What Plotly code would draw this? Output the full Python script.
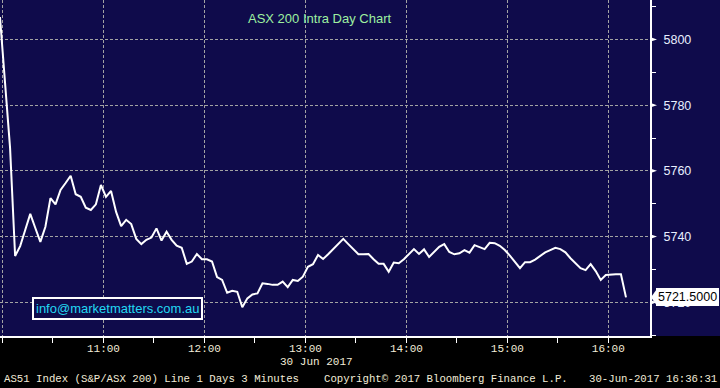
import pandas as pd
import plotly.graph_objects as go

# ---- data (3-minute intraday closes) ----
start_time = "2017-06-30 09:58:30"
values = [
    5806.8, 5787.1, 5767.0, 5734.1, 5737.1, 5742.0, 5746.9, 5742.6, 5738.4, 5743.0,
    5751.7, 5749.8, 5754.2, 5756.3, 5758.5, 5752.9, 5752.1, 5748.8, 5748.1, 5749.8,
    5755.7, 5752.1, 5753.9, 5747.5, 5743.2, 5745.1, 5743.8, 5739.3, 5737.7, 5739.0,
    5739.7, 5742.5, 5738.8, 5741.5, 5739.0, 5737.2, 5736.6, 5731.7, 5732.4, 5734.7,
    5733.1, 5733.1, 5732.4, 5727.7, 5726.8, 5722.9, 5723.5, 5723.2, 5718.5, 5721.2,
    5722.4, 5722.7, 5725.8, 5725.6, 5725.3, 5725.3, 5726.3, 5724.6, 5726.8, 5726.5,
    5727.8, 5730.8, 5731.6, 5734.4, 5733.2, 5734.6, 5736.1, 5737.7, 5739.3, 5737.7,
    5736.1, 5734.6, 5734.6, 5734.7, 5733.1, 5731.7, 5731.7, 5729.3, 5732.1, 5731.9,
    5733.1, 5734.6, 5736.2, 5734.7, 5736.1, 5733.8, 5735.2, 5736.9, 5737.7, 5735.3,
    5734.6, 5734.9, 5735.9, 5735.1, 5737.4, 5736.9, 5736.2, 5738.1, 5738.0, 5737.2,
    5735.9, 5734.2, 5732.4, 5730.4, 5732.2, 5732.2, 5733.0, 5734.1, 5735.2, 5735.9,
    5736.6, 5736.2, 5735.2, 5733.4, 5731.9, 5730.4, 5729.8, 5731.6, 5729.5, 5726.8,
    5728.3, 5728.5, 5728.5, 5728.5, 5721.5,
]
times = pd.date_range(start_time, periods=len(values), freq="3min")

hour_ticks = ["2017-06-30 %02d:00" % h for h in range(10, 17)]
hour_labels = ["", "11:00", "12:00", "13:00", "14:00", "15:00", "16:00"]
half_ticks = ["2017-06-30 %02d:30" % h for h in range(10, 16)]
y_ticks = [5720, 5740, 5760, 5780, 5800]
y_minor = [5710, 5730, 5750, 5770, 5790, 5810]

title_text = "ASX 200 Intra Day Chart"
email_text = "info@marketmatters.com.au"
date_text = "30 Jun 2017"
footer_left = "AS51 Index (S&amp;P/ASX 200) Line 1 Days 3 Minutes"
footer_mid = "Copyright\u00a9 2017 Bloomberg Finance L.P."
footer_right = "30-Jun-2017 16:36:31"

NAVY = "#0f0b4b"
GRID = "#a3a3a3"
MONO = "Liberation Mono, DejaVu Sans Mono, monospace"
SANS = "Liberation Sans, Arial, sans-serif"
PALE = "#f2ecd8"

fig = go.Figure()
fig.add_trace(go.Scatter(
    x=times, y=values, mode="lines",
    line=dict(color="white", width=2),
    hoverinfo="skip", showlegend=False,
))

W, H = 720, 388
L, R, T, B = 0, 70, 0, 52
pw, ph = W - L - R, H - T - B
ymin, ymax = 5709.74, 5812.0


def ypaper(v):
    """Map a data value on the y axis to paper coordinates."""
    return (v - ymin) / (ymax - ymin)


shapes = []
# black footer band
shapes.append(dict(type="rect", xref="paper", yref="paper", x0=-0.01, x1=1.2,
                   y0=-B / ph - 0.01, y1=0, fillcolor="black", line=dict(width=0),
                   layer="below"))
# triangle markers at major y ticks
for v in y_ticks:
    yp = ypaper(v)
    h = 2.4 / ph
    shapes.append(dict(type="path", xref="paper", yref="paper",
                       path=f"M 1.0,{yp - h} L {1 + 7 / pw},{yp} L 1.0,{yp + h} Z",
                       fillcolor="white", line=dict(width=0)))
# last value arrow
last = values[-1]
lp = ypaper(last)
hh = 8.5 / ph
shapes.append(dict(type="path", xref="paper", yref="paper",
                   path=f"M {1 + 1 / pw},{lp} L {1 + 7 / pw},{lp + hh} L {1 + 7 / pw},{lp - hh} Z",
                   fillcolor="white", line=dict(width=0)))

annotations = [
    dict(text=title_text, xref="paper", yref="paper", x=319.7 / pw, y=1 - 18 / ph,
         xanchor="center", yanchor="middle", showarrow=False,
         font=dict(family=SANS, size=13, color="#9ef0a0")),
    dict(text=email_text, xref="paper", yref="paper", x=117.7 / pw, y=1 - 308.2 / ph,
         xanchor="center", yanchor="middle", showarrow=False,
         bgcolor=NAVY, bordercolor="white", borderwidth=2, borderpad=2,
         font=dict(family=SANS, size=13, color="#22d8f2")),
    dict(text=f"{last:.4f}", xref="paper", yref="y", x=1, y=last, xshift=6,
         xanchor="left", yanchor="middle", showarrow=False,
         bgcolor="white", bordercolor="white", borderwidth=1, borderpad=1,
         font=dict(family=SANS, size=12.5, color="black")),
    dict(text=date_text, xref="paper", yref="paper", x=316 / pw, y=-(362.3 - ph) / ph,
         xanchor="center", yanchor="middle", showarrow=False,
         font=dict(family=MONO, size=11, color=PALE)),
    dict(text=footer_left, xref="paper", yref="paper", x=2 / pw, y=-(379.3 - ph) / ph,
         xanchor="left", yanchor="middle", showarrow=False,
         font=dict(family=MONO, size=10.7, color=PALE)),
    dict(text=footer_mid, xref="paper", yref="paper", x=322 / pw, y=-(379.3 - ph) / ph,
         xanchor="left", yanchor="middle", showarrow=False,
         font=dict(family=MONO, size=10.7, color=PALE)),
    dict(text=footer_right, xref="paper", yref="paper", x=587 / pw, y=-(379.3 - ph) / ph,
         xanchor="left", yanchor="middle", showarrow=False,
         font=dict(family=MONO, size=10.7, color=PALE)),
]

fig.update_layout(
    width=W, height=H,
    margin=dict(l=L, r=R, t=T, b=B, pad=0),
    paper_bgcolor=NAVY, plot_bgcolor=NAVY,
    showlegend=False,
    shapes=shapes, annotations=annotations,
    xaxis=dict(
        range=["2017-06-30 09:58:31", "2017-06-30 16:24:46"],
        tickmode="array", tickvals=hour_ticks, ticktext=hour_labels,
        showgrid=True, gridcolor=GRID, gridwidth=1, griddash="3px,2px",
        ticks="outside", ticklen=5, tickwidth=1, tickcolor="white",
        ticklabelstandoff=-4,
        showline=True, linecolor="white", linewidth=2,
        zeroline=False, automargin=False,
        tickfont=dict(family=MONO, size=11, color=PALE),
        minor=dict(tickmode="array", tickvals=half_ticks, ticks="outside",
                   ticklen=5, tickwidth=1, tickcolor="white", showgrid=False),
    ),
    yaxis=dict(
        side="right", range=[ymin, ymax],
        tickmode="array", tickvals=y_ticks,
        showgrid=True, gridcolor=GRID, gridwidth=1, griddash="3px,2px",
        ticks="", ticklabelstandoff=9,
        showline=True, linecolor="white", linewidth=2,
        zeroline=False, automargin=False,
        tickfont=dict(family=SANS, size=12.5, color="#e8efff"),
        minor=dict(tickmode="array", tickvals=y_minor, ticks="outside",
                   ticklen=4, tickwidth=1, tickcolor="white", showgrid=False),
    ),
)

fig.write_html("out.html")
